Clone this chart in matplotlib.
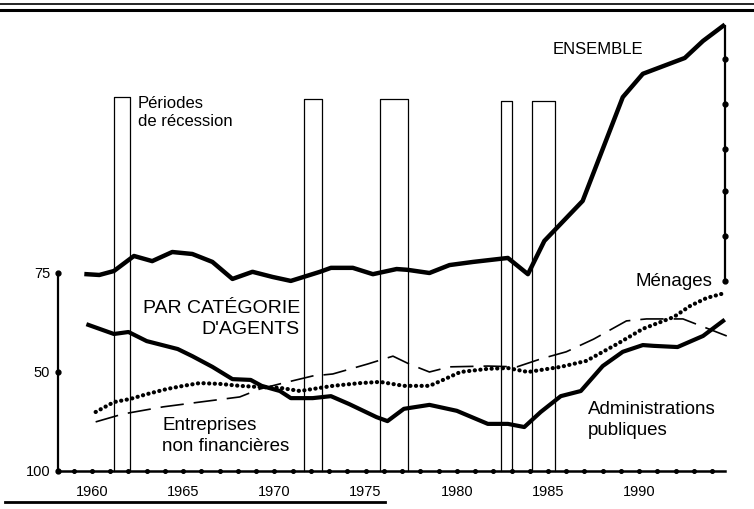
import numpy as np
import matplotlib
matplotlib.use("Agg")
import matplotlib.pyplot as plt
from matplotlib.lines import Line2D

plt.rcParams['font.family'] = ['Liberation Sans', 'DejaVu Sans']

# ENSEMBLE (trait epais du haut)
ens_x = [1959.7, 1960.4, 1961.2, 1962.3, 1963.3, 1964.4, 1965.5, 1966.6, 1967.7,
         1968.8, 1969.9, 1970.9, 1972.5, 1973.1, 1974.3, 1975.4, 1976.7, 1977.3,
         1978.5, 1979.6, 1980.9, 1982.8, 1983.9, 1984.8, 1986.9, 1989.1, 1990.2,
         1992.5, 1993.5, 1994.6]
ens_y = [74.7, 74.5, 75.5, 79.3, 78.0, 80.3, 79.8, 77.8, 73.5,
         75.3, 74.0, 73.0, 75.3, 76.3, 76.3, 74.7, 76.0, 75.8,
         75.0, 77.0, 77.8, 78.8, 74.7, 83.1, 93.2, 119.4, 125.3,
         129.3, 133.6, 137.4]

# Administrations publiques
adm_x = [1959.8, 1961.2, 1962.0, 1963.0, 1964.7, 1965.5, 1966.6, 1967.7, 1968.7,
         1969.3, 1970.3, 1970.9, 1972.1, 1973.1, 1974.1, 1975.6, 1976.2, 1977.1,
         1978.5, 1980.0, 1981.7, 1982.8, 1983.7, 1984.6, 1985.7, 1986.8, 1988.0,
         1989.1, 1990.2, 1990.8, 1992.1, 1993.5, 1994.6]
adm_y = [61.9, 59.6, 60.1, 57.8, 55.8, 54.0, 51.3, 48.2, 48.0,
         46.5, 45.2, 43.4, 43.4, 43.9, 41.9, 38.6, 37.6, 40.7,
         41.7, 40.2, 36.9, 36.9, 36.1, 39.9, 43.9, 45.2, 51.5,
         55.1, 56.8, 56.6, 56.3, 59.1, 62.9]

# Menages (pointilles)
men_x = [1960.2, 1961.2, 1962.1, 1963.0, 1964.1, 1965.0, 1965.9, 1967.0, 1968.1,
         1969.2, 1970.3, 1971.4, 1973.2, 1974.7, 1975.8, 1977.1, 1978.5, 1979.1,
         1980.2, 1981.7, 1982.8, 1983.9, 1985.7, 1987.1, 1988.8, 1990.2, 1991.9,
         1992.8, 1993.7, 1994.5]
men_y = [39.9, 42.4, 43.2, 44.4, 45.7, 46.5, 47.2, 47.0, 46.5,
         46.2, 46.0, 45.2, 46.5, 47.2, 47.5, 46.5, 46.5, 47.7,
         50.0, 50.8, 51.0, 50.0, 51.3, 52.8, 57.1, 60.9, 63.9,
         66.7, 68.7, 69.7]

# Entreprises non financieres (tirets)
ent_x = [1960.2, 1961.7, 1963.9, 1965.9, 1968.1, 1969.2, 1970.3, 1972.1, 1973.2,
         1975.1, 1976.5, 1977.4, 1978.5, 1979.6, 1981.7, 1983.3, 1984.6, 1986.0,
         1987.5, 1989.3, 1990.4, 1992.4, 1994.8]
ent_y = [37.4, 39.4, 41.2, 42.4, 43.7, 45.7, 47.0, 49.0, 49.5,
         52.0, 54.0, 52.0, 50.0, 51.3, 51.5, 51.3, 53.3, 55.1,
         58.3, 62.9, 63.4, 63.4, 59.1]

# periodes de recession
rec_debut = [1961.2, 1971.6, 1975.8, 1982.4, 1984.1]
rec_fin = [1962.1, 1972.6, 1977.3, 1983.0, 1985.4]
rec_haut = [119.4, 118.9, 118.9, 118.4, 118.4]

annees_lab = [1960, 1965, 1970, 1975, 1980, 1985, 1990]
gauche_pos = [25, 50, 75]
gauche_lab = ['100', '50', '75']
droite_pos = [73.0, 84.3, 95.7, 106.3, 117.7, 129.0]

base = 25
x0, x1 = 1958.14, 1994.7
etroit = ['Liberation Sans Narrow', 'Liberation Sans', 'DejaVu Sans']

fig = plt.figure(figsize=(7.54, 5.10), dpi=100)
ax = fig.add_axes([0, 0, 1, 1])
ax.set_xlim(1954.956, 1996.294)
ax.set_ylim(15.404, 144.19)
ax.axis('off')

# barres de recession
for d, f, h in zip(rec_debut, rec_fin, rec_haut):
    ax.plot([d, d, f, f], [base, h, h, base], color='black', lw=0.9)

# axes
ax.plot([x0, x1], [base, base], color='black', lw=1.8)
ax.plot([x0, x0], [base, 75], color='black', lw=1.6)
ax.plot([x1, x1], [73.0, ens_y[-1]], color='black', lw=1.6)
ax.plot([x0] + list(range(1959, 1995)), [base] * 37, 'o', color='black', ms=2.6)
ax.plot([x0] * 3, gauche_pos, 'o', color='black', ms=3.5)
ax.plot([x1] * len(droite_pos), droite_pos, 'o', color='black', ms=3.5)

# series
ax.plot(ens_x, ens_y, color='black', lw=3.2, solid_joinstyle='round')
ax.plot(adm_x, adm_y, color='black', lw=3.0, solid_joinstyle='round')
ax.plot(men_x, men_y, color='black', lw=3.0, linestyle=(0, (0.05, 1.3)),
        dash_capstyle='round')
ax.plot(ent_x, ent_y, color='black', lw=1.2, linestyle=(0, (14, 6)))

# etiquettes
for a in annees_lab:
    ax.text(a, 19.95, str(a), ha='center', va='center', fontsize=10.5,
            family=etroit)
for p, l in zip(gauche_pos, gauche_lab):
    ax.text(1957.7, p, l, ha='right', va='center', fontsize=10.5, family=etroit)

ax.text(1985.27, 131.6, 'ENSEMBLE', fontsize=12, va='center', ha='left')
ax.text(1962.52, 119.9, 'Périodes\nde récession', fontsize=12, va='top',
        ha='left', linespacing=1.25)
ax.text(1971.4, 63.6, "PAR CATÉGORIE\nD'AGENTS", fontsize=14, va='center',
        ha='right', multialignment='right', linespacing=1.3)
ax.text(1963.84, 34.1, 'Entreprises\nnon financières', fontsize=13.5,
        va='center', ha='left', linespacing=1.25)
ax.text(1989.82, 73.0, 'Ménages', fontsize=13.5, va='center', ha='left')
ax.text(1987.19, 38.1, 'Administrations\npubliques', fontsize=13.5,
        va='center', ha='left', linespacing=1.25)

# filets
fig.add_artist(Line2D([0.0, 1.0], [1 - 5 / 510, 1 - 5 / 510], color='black', lw=1.2))
fig.add_artist(Line2D([0.0, 1.0], [1 - 11 / 510, 1 - 11 / 510], color='black', lw=2.2))
fig.add_artist(Line2D([5 / 754, 385 / 754], [1 - 503 / 510, 1 - 503 / 510],
                      color='black', lw=2.0))

fig.savefig('out.png', dpi=100)
